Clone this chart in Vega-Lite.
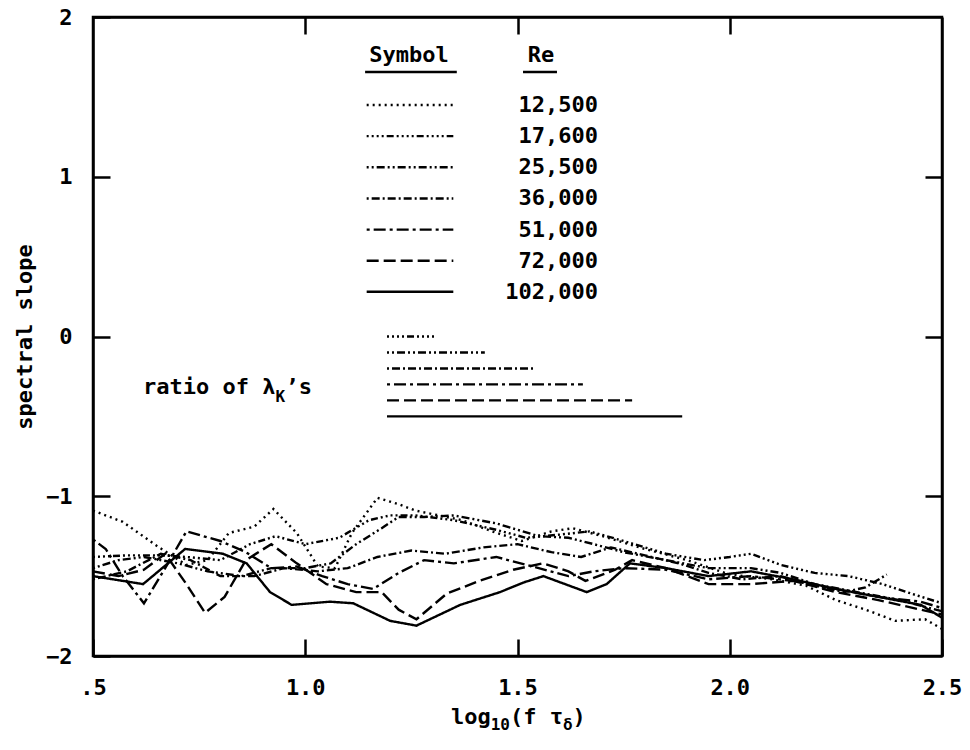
{
  "$schema": "https://vega.github.io/schema/vega-lite/v6.json",
  "width": 849,
  "height": 639,
  "autosize": {"type": "none"},
  "padding": {"left": 93, "top": 17, "right": 28, "bottom": 94},
  "background": "white",
  "config": {
    "view": {"stroke": "black", "strokeWidth": 2.5},
    "font": "DejaVu Sans Mono",
    "axis": {"domainColor": "black", "domainWidth": 2.5, "tickColor": "black", "tickWidth": 2.5, "grid": false,
      "labelFont": "DejaVu Sans Mono", "labelFontSize": 22, "labelFontWeight": "bold", "labelColor": "black",
      "titleFont": "DejaVu Sans Mono", "titleFontSize": 22, "titleFontWeight": "bold", "titleColor": "black"}
  },
  "datasets": {
    "series": [
      {"Re":"12,500","x":0.5,"s":-1.09},{"Re":"12,500","x":0.57,"s":-1.16},{"Re":"12,500","x":0.65,"s":-1.31},{"Re":"12,500","x":0.72,"s":-1.43},{"Re":"12,500","x":0.77,"s":-1.40},{"Re":"12,500","x":0.82,"s":-1.23},{"Re":"12,500","x":0.88,"s":-1.19},{"Re":"12,500","x":0.925,"s":-1.08},{"Re":"12,500","x":0.98,"s":-1.23},{"Re":"12,500","x":1.03,"s":-1.44},{"Re":"12,500","x":1.07,"s":-1.45},{"Re":"12,500","x":1.11,"s":-1.23},{"Re":"12,500","x":1.17,"s":-1.01},{"Re":"12,500","x":1.22,"s":-1.05},{"Re":"12,500","x":1.26,"s":-1.09},{"Re":"12,500","x":1.37,"s":-1.15},{"Re":"12,500","x":1.44,"s":-1.22},{"Re":"12,500","x":1.51,"s":-1.28},{"Re":"12,500","x":1.58,"s":-1.22},{"Re":"12,500","x":1.63,"s":-1.20},{"Re":"12,500","x":1.70,"s":-1.25},{"Re":"12,500","x":1.80,"s":-1.33},{"Re":"12,500","x":1.90,"s":-1.40},{"Re":"12,500","x":2.00,"s":-1.49},{"Re":"12,500","x":2.10,"s":-1.52},{"Re":"12,500","x":2.18,"s":-1.56},{"Re":"12,500","x":2.25,"s":-1.65},{"Re":"12,500","x":2.32,"s":-1.71},{"Re":"12,500","x":2.39,"s":-1.78},{"Re":"12,500","x":2.46,"s":-1.77},{"Re":"12,500","x":2.5,"s":-1.83},
      {"Re":"17,600","x":0.5,"s":-1.38},{"Re":"17,600","x":0.58,"s":-1.37},{"Re":"17,600","x":0.66,"s":-1.37},{"Re":"17,600","x":0.72,"s":-1.38},{"Re":"17,600","x":0.80,"s":-1.40},{"Re":"17,600","x":0.87,"s":-1.30},{"Re":"17,600","x":0.93,"s":-1.25},{"Re":"17,600","x":1.00,"s":-1.30},{"Re":"17,600","x":1.08,"s":-1.26},{"Re":"17,600","x":1.15,"s":-1.15},{"Re":"17,600","x":1.20,"s":-1.12},{"Re":"17,600","x":1.26,"s":-1.12},{"Re":"17,600","x":1.35,"s":-1.15},{"Re":"17,600","x":1.45,"s":-1.21},{"Re":"17,600","x":1.52,"s":-1.26},{"Re":"17,600","x":1.60,"s":-1.24},{"Re":"17,600","x":1.67,"s":-1.22},{"Re":"17,600","x":1.75,"s":-1.28},{"Re":"17,600","x":1.85,"s":-1.36},{"Re":"17,600","x":1.94,"s":-1.40},{"Re":"17,600","x":2.00,"s":-1.38},{"Re":"17,600","x":2.05,"s":-1.36},{"Re":"17,600","x":2.12,"s":-1.43},{"Re":"17,600","x":2.20,"s":-1.48},{"Re":"17,600","x":2.28,"s":-1.50},{"Re":"17,600","x":2.36,"s":-1.55},{"Re":"17,600","x":2.44,"s":-1.62},{"Re":"17,600","x":2.5,"s":-1.67},
      {"Re":"25,500","x":0.5,"s":-1.45},{"Re":"25,500","x":0.56,"s":-1.40},{"Re":"25,500","x":0.62,"s":-1.38},{"Re":"25,500","x":0.70,"s":-1.42},{"Re":"25,500","x":0.77,"s":-1.47},{"Re":"25,500","x":0.85,"s":-1.50},{"Re":"25,500","x":0.92,"s":-1.45},{"Re":"25,500","x":1.00,"s":-1.45},{"Re":"25,500","x":1.06,"s":-1.42},{"Re":"25,500","x":1.12,"s":-1.30},{"Re":"25,500","x":1.18,"s":-1.20},{"Re":"25,500","x":1.22,"s":-1.13},{"Re":"25,500","x":1.28,"s":-1.13},{"Re":"25,500","x":1.35,"s":-1.12},{"Re":"25,500","x":1.45,"s":-1.17},{"Re":"25,500","x":1.55,"s":-1.25},{"Re":"25,500","x":1.62,"s":-1.26},{"Re":"25,500","x":1.68,"s":-1.30},{"Re":"25,500","x":1.75,"s":-1.35},{"Re":"25,500","x":1.85,"s":-1.40},{"Re":"25,500","x":1.95,"s":-1.45},{"Re":"25,500","x":2.05,"s":-1.45},{"Re":"25,500","x":2.12,"s":-1.48},{"Re":"25,500","x":2.20,"s":-1.55},{"Re":"25,500","x":2.30,"s":-1.60},{"Re":"25,500","x":2.40,"s":-1.65},{"Re":"25,500","x":2.5,"s":-1.72},
      {"Re":"36,000","x":0.5,"s":-1.52},{"Re":"36,000","x":0.58,"s":-1.47},{"Re":"36,000","x":0.66,"s":-1.36},{"Re":"36,000","x":0.73,"s":-1.40},{"Re":"36,000","x":0.80,"s":-1.50},{"Re":"36,000","x":0.88,"s":-1.50},{"Re":"36,000","x":0.95,"s":-1.45},{"Re":"36,000","x":1.03,"s":-1.47},{"Re":"36,000","x":1.10,"s":-1.45},{"Re":"36,000","x":1.17,"s":-1.38},{"Re":"36,000","x":1.25,"s":-1.34},{"Re":"36,000","x":1.33,"s":-1.36},{"Re":"36,000","x":1.42,"s":-1.32},{"Re":"36,000","x":1.50,"s":-1.30},{"Re":"36,000","x":1.58,"s":-1.35},{"Re":"36,000","x":1.65,"s":-1.38},{"Re":"36,000","x":1.72,"s":-1.32},{"Re":"36,000","x":1.80,"s":-1.37},{"Re":"36,000","x":1.88,"s":-1.42},{"Re":"36,000","x":1.95,"s":-1.48},{"Re":"36,000","x":2.03,"s":-1.52},{"Re":"36,000","x":2.12,"s":-1.50},{"Re":"36,000","x":2.20,"s":-1.56},{"Re":"36,000","x":2.27,"s":-1.60},{"Re":"36,000","x":2.32,"s":-1.57},{"Re":"36,000","x":2.37,"s":-1.49},
      {"Re":"51,000","x":0.5,"s":-1.27},{"Re":"51,000","x":0.53,"s":-1.33},{"Re":"51,000","x":0.57,"s":-1.50},{"Re":"51,000","x":0.62,"s":-1.67},{"Re":"51,000","x":0.67,"s":-1.45},{"Re":"51,000","x":0.72,"s":-1.22},{"Re":"51,000","x":0.80,"s":-1.28},{"Re":"51,000","x":0.86,"s":-1.35},{"Re":"51,000","x":0.92,"s":-1.45},{"Re":"51,000","x":0.98,"s":-1.44},{"Re":"51,000","x":1.04,"s":-1.50},{"Re":"51,000","x":1.10,"s":-1.55},{"Re":"51,000","x":1.16,"s":-1.58},{"Re":"51,000","x":1.22,"s":-1.48},{"Re":"51,000","x":1.28,"s":-1.40},{"Re":"51,000","x":1.35,"s":-1.42},{"Re":"51,000","x":1.45,"s":-1.38},{"Re":"51,000","x":1.55,"s":-1.45},{"Re":"51,000","x":1.62,"s":-1.50},{"Re":"51,000","x":1.68,"s":-1.47},{"Re":"51,000","x":1.75,"s":-1.45},{"Re":"51,000","x":1.85,"s":-1.46},{"Re":"51,000","x":1.95,"s":-1.52},{"Re":"51,000","x":2.05,"s":-1.50},{"Re":"51,000","x":2.15,"s":-1.53},{"Re":"51,000","x":2.25,"s":-1.58},{"Re":"51,000","x":2.35,"s":-1.63},{"Re":"51,000","x":2.45,"s":-1.66},{"Re":"51,000","x":2.5,"s":-1.70},
      {"Re":"72,000","x":0.5,"s":-1.47},{"Re":"72,000","x":0.56,"s":-1.50},{"Re":"72,000","x":0.62,"s":-1.46},{"Re":"72,000","x":0.67,"s":-1.36},{"Re":"72,000","x":0.72,"s":-1.55},{"Re":"72,000","x":0.764,"s":-1.73},{"Re":"72,000","x":0.81,"s":-1.63},{"Re":"72,000","x":0.86,"s":-1.40},{"Re":"72,000","x":0.92,"s":-1.30},{"Re":"72,000","x":0.98,"s":-1.42},{"Re":"72,000","x":1.05,"s":-1.55},{"Re":"72,000","x":1.12,"s":-1.60},{"Re":"72,000","x":1.18,"s":-1.60},{"Re":"72,000","x":1.22,"s":-1.71},{"Re":"72,000","x":1.262,"s":-1.77},{"Re":"72,000","x":1.333,"s":-1.61},{"Re":"72,000","x":1.41,"s":-1.53},{"Re":"72,000","x":1.49,"s":-1.46},{"Re":"72,000","x":1.56,"s":-1.42},{"Re":"72,000","x":1.62,"s":-1.47},{"Re":"72,000","x":1.66,"s":-1.53},{"Re":"72,000","x":1.73,"s":-1.46},{"Re":"72,000","x":1.77,"s":-1.40},{"Re":"72,000","x":1.85,"s":-1.45},{"Re":"72,000","x":1.95,"s":-1.55},{"Re":"72,000","x":2.05,"s":-1.55},{"Re":"72,000","x":2.15,"s":-1.53},{"Re":"72,000","x":2.25,"s":-1.60},{"Re":"72,000","x":2.35,"s":-1.65},{"Re":"72,000","x":2.45,"s":-1.71},{"Re":"72,000","x":2.5,"s":-1.74},
      {"Re":"102,000","x":0.5,"s":-1.50},{"Re":"102,000","x":0.618,"s":-1.55},{"Re":"102,000","x":0.717,"s":-1.33},{"Re":"102,000","x":0.806,"s":-1.36},{"Re":"102,000","x":0.862,"s":-1.42},{"Re":"102,000","x":0.917,"s":-1.60},{"Re":"102,000","x":0.968,"s":-1.68},{"Re":"102,000","x":1.058,"s":-1.66},{"Re":"102,000","x":1.113,"s":-1.67},{"Re":"102,000","x":1.20,"s":-1.78},{"Re":"102,000","x":1.262,"s":-1.81},{"Re":"102,000","x":1.365,"s":-1.68},{"Re":"102,000","x":1.459,"s":-1.60},{"Re":"102,000","x":1.514,"s":-1.54},{"Re":"102,000","x":1.561,"s":-1.50},{"Re":"102,000","x":1.663,"s":-1.60},{"Re":"102,000","x":1.71,"s":-1.55},{"Re":"102,000","x":1.765,"s":-1.42},{"Re":"102,000","x":1.85,"s":-1.45},{"Re":"102,000","x":1.95,"s":-1.50},{"Re":"102,000","x":2.05,"s":-1.47},{"Re":"102,000","x":2.15,"s":-1.52},{"Re":"102,000","x":2.25,"s":-1.58},{"Re":"102,000","x":2.35,"s":-1.63},{"Re":"102,000","x":2.45,"s":-1.68},{"Re":"102,000","x":2.5,"s":-1.76}
    ],
    "keys": [
      {"Re":"12,500","ly":1.449,"l1":1.1447,"l2":1.3488,"nx":1.6896},
      {"Re":"17,600","ly":1.254,"l1":1.1447,"l2":1.3488,"nx":1.6896},
      {"Re":"25,500","ly":1.059,"l1":1.1447,"l2":1.3488,"nx":1.6896},
      {"Re":"36,000","ly":0.864,"l1":1.1447,"l2":1.3488,"nx":1.6896},
      {"Re":"51,000","ly":0.669,"l1":1.1447,"l2":1.3488,"nx":1.6896},
      {"Re":"72,000","ly":0.474,"l1":1.1447,"l2":1.3488,"nx":1.6896},
      {"Re":"102,000","ly":0.28,"l1":1.1447,"l2":1.3488,"nx":1.6896}
    ],
    "ratios": [
      {"Re":"17,600","r1":1.1926,"r2":1.310,"ry":0},
      {"Re":"25,500","r1":1.1926,"r2":1.423,"ry":-0.1},
      {"Re":"36,000","r1":1.1926,"r2":1.541,"ry":-0.2},
      {"Re":"51,000","r1":1.1926,"r2":1.654,"ry":-0.3},
      {"Re":"72,000","r1":1.1926,"r2":1.770,"ry":-0.4},
      {"Re":"102,000","r1":1.1926,"r2":1.888,"ry":-0.5}
    ],
    "headers": [
      {"t":"Symbol","x":1.2444,"y":1.765,"u1":1.141,"u2":1.357,"uy":1.655},
      {"t":"Re","x":1.5554,"y":1.765,"u1":1.513,"u2":1.593,"uy":1.655}
    ],
    "notes": [
      {"t":"ratio of λ","x":0.6178,"y":-0.314},
      {"t":"’s","x":0.9535,"y":-0.314},
      {"t":"log","x":1.3433,"y":-2.38},
      {"t":"(f τ","x":1.4823,"y":-2.38},
      {"t":")","x":1.6298,"y":-2.38}
    ],
    "subs": [
      {"t":"K","x":0.9297,"y":-0.38},
      {"t":"10","x":1.4369,"y":-2.43},
      {"t":"δ","x":1.6072,"y":-2.43}
    ]
  },
  "layer": [
    {
      "data": {"name": "series"},
      "mark": {"type": "line", "color": "black", "strokeWidth": 2.4},
      "encoding": {
        "x": {"field": "x", "type": "quantitative", "scale": {"domain": [0.5, 2.5], "nice": false, "zero": false},
          "axis": {"orient": "bottom", "values": [0.5, 1, 1.5, 2, 2.5], "tickSize": -17, "labelPadding": 38, "labelFlush": false, "labelOverlap": false,
            "labelExpr": "datum.value == 0.5 ? '.5' : format(datum.value, '.1f')", "title": null}},
        "y": {"field": "s", "type": "quantitative", "scale": {"domain": [-2, 2], "nice": false, "zero": false},
          "axis": {"orient": "left", "values": [-2, -1, 0, 1, 2], "tickSize": -17, "labelPadding": 38, "labelFlush": false, "labelOverlap": false, "format": "d",
            "title": "spectral slope", "titlePadding": 9}},
        "strokeDash": {"field": "Re", "type": "nominal", "legend": null,
          "scale": {"domain": ["12,500","17,600","25,500","36,000","51,000","72,000","102,000"],
            "range": [[2,4],[2,3,2,3,2,3,2,3,7,3],[2,3,2,3,8,3],[2,3,8,3],[3,4,12,4],[12,5],[1,0]]}}
      }
    },
    {
      "data": {"name": "keys"},
      "mark": {"type": "rule", "color": "black", "strokeWidth": 2.4},
      "encoding": {
        "x": {"field": "l1", "type": "quantitative", "scale": {"domain": [0.5, 2.5], "nice": false, "zero": false},
          "axis": {"orient": "top", "values": [1, 1.5, 2], "tickSize": -17, "labels": false, "title": null}},
        "x2": {"field": "l2"},
        "y": {"field": "ly", "type": "quantitative", "scale": {"domain": [-2, 2], "nice": false, "zero": false},
          "axis": {"orient": "right", "values": [-1, 0, 1], "tickSize": -17, "labels": false, "title": null}},
        "strokeDash": {"field": "Re", "type": "nominal", "legend": null,
          "scale": {"domain": ["12,500","17,600","25,500","36,000","51,000","72,000","102,000"],
            "range": [[2,4],[2,3,2,3,2,3,2,3,7,3],[2,3,2,3,8,3],[2,3,8,3],[3,4,12,4],[12,5],[1,0]]}}
      }
    },
    {
      "data": {"name": "ratios"},
      "mark": {"type": "rule", "color": "black", "strokeWidth": 2.4},
      "encoding": {
        "x": {"field": "r1", "type": "quantitative", "scale": {"domain": [0.5, 2.5], "nice": false, "zero": false}, "axis": null},
        "x2": {"field": "r2"},
        "y": {"field": "ry", "type": "quantitative", "scale": {"domain": [-2, 2], "nice": false, "zero": false}, "axis": null},
        "strokeDash": {"field": "Re", "type": "nominal", "legend": null,
          "scale": {"domain": ["12,500","17,600","25,500","36,000","51,000","72,000","102,000"],
            "range": [[2,4],[2,3,2,3,2,3,2,3,7,3],[2,3,2,3,8,3],[2,3,8,3],[3,4,12,4],[12,5],[1,0]]}}
      }
    },
    {
      "data": {"name": "headers"},
      "mark": {"type": "rule", "color": "black", "strokeWidth": 2.5},
      "encoding": {
        "x": {"field": "u1", "type": "quantitative", "scale": {"domain": [0.5, 2.5], "nice": false, "zero": false}, "axis": null},
        "x2": {"field": "u2"},
        "y": {"field": "uy", "type": "quantitative", "scale": {"domain": [-2, 2], "nice": false, "zero": false}, "axis": null}
      }
    },
    {
      "data": {"name": "headers"},
      "mark": {"type": "text", "font": "DejaVu Sans Mono", "fontSize": 22, "fontWeight": "bold", "align": "center", "baseline": "middle", "color": "black"},
      "encoding": {
        "x": {"field": "x", "type": "quantitative", "scale": {"domain": [0.5, 2.5], "nice": false, "zero": false}, "axis": null},
        "y": {"field": "y", "type": "quantitative", "scale": {"domain": [-2, 2], "nice": false, "zero": false}, "axis": null},
        "text": {"field": "t", "type": "nominal"}
      }
    },
    {
      "data": {"name": "keys"},
      "mark": {"type": "text", "font": "DejaVu Sans Mono", "fontSize": 22, "fontWeight": "bold", "align": "right", "baseline": "middle", "color": "black"},
      "encoding": {
        "x": {"field": "nx", "type": "quantitative", "scale": {"domain": [0.5, 2.5], "nice": false, "zero": false}, "axis": null},
        "y": {"field": "ly", "type": "quantitative", "scale": {"domain": [-2, 2], "nice": false, "zero": false}, "axis": null},
        "text": {"field": "Re", "type": "nominal"}
      }
    },
    {
      "data": {"name": "notes"},
      "mark": {"type": "text", "font": "DejaVu Sans Mono", "fontSize": 22, "fontWeight": "bold", "align": "left", "baseline": "middle", "color": "black"},
      "encoding": {
        "x": {"field": "x", "type": "quantitative", "scale": {"domain": [0.5, 2.5], "nice": false, "zero": false}, "axis": null},
        "y": {"field": "y", "type": "quantitative", "scale": {"domain": [-2, 2], "nice": false, "zero": false}, "axis": null},
        "text": {"field": "t", "type": "nominal"}
      }
    },
    {
      "data": {"name": "subs"},
      "mark": {"type": "text", "font": "DejaVu Sans Mono", "fontSize": 16, "fontWeight": "bold", "align": "left", "baseline": "middle", "color": "black"},
      "encoding": {
        "x": {"field": "x", "type": "quantitative", "scale": {"domain": [0.5, 2.5], "nice": false, "zero": false}, "axis": null},
        "y": {"field": "y", "type": "quantitative", "scale": {"domain": [-2, 2], "nice": false, "zero": false}, "axis": null},
        "text": {"field": "t", "type": "nominal"}
      }
    }
  ],
  "resolve": {"axis": {"x": "independent", "y": "independent"}}
}
